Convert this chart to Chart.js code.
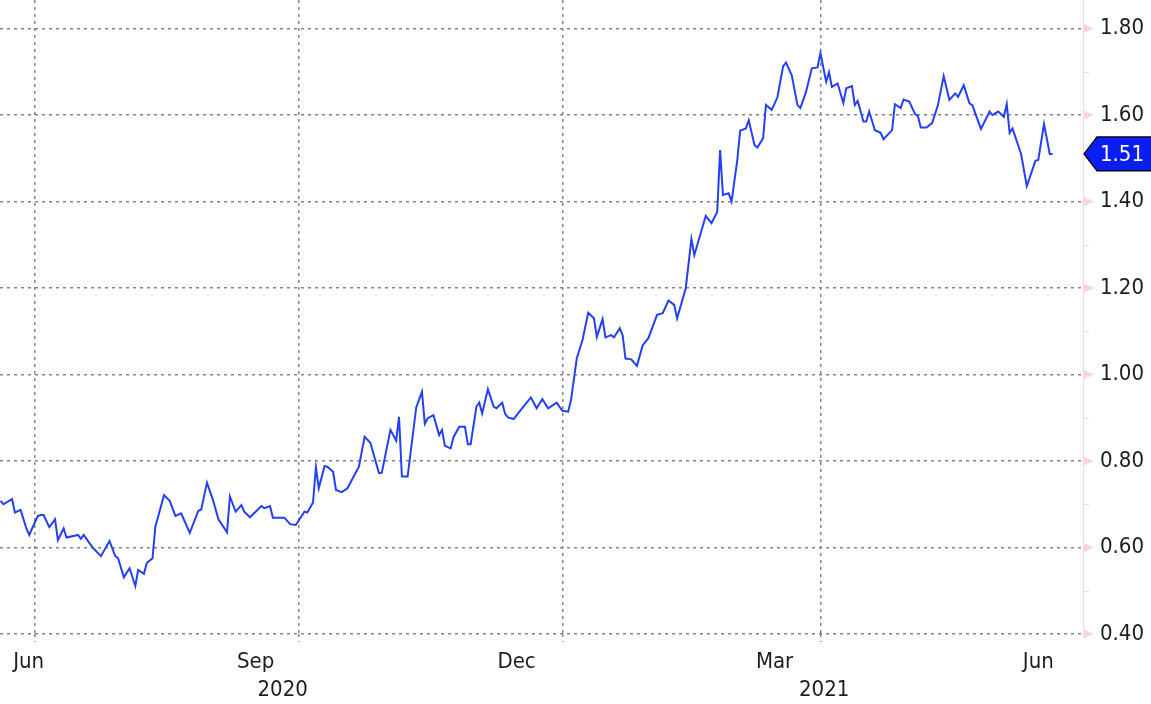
<!DOCTYPE html>
<html lang="en">
<head>
    <meta charset="UTF-8">
    <title>Yield chart</title>
    <script src="https://cdn.jsdelivr.net/npm/chart.js"></script>
    <style>
        html, body { margin: 0; padding: 0; background: #ffffff; }
        #wrap { width: 1151px; height: 704px; position: relative; }
    </style>
    <script>
        // days counted from 30 Jun 2020
        var baseDate = '2020-06-30';
        var dayOffsets = [
            -12, -11, -8, -7, -5, -3, -2, -1, 1, 2, 3, 5, 7, 8, 10, 11, 15, 16, 17, 20,
            23, 26, 28, 29, 31, 33, 35, 36, 38, 39, 41, 42, 45, 47, 49, 51, 54, 57, 58, 60,
            62, 64, 67, 68, 70, 72, 73, 75, 79, 80, 82, 83, 87, 89, 91, 94, 95, 97, 98, 99,
            101, 102, 104, 105, 107, 109, 113, 115, 117, 120, 121, 124, 126, 127, 128, 130, 133, 135, 136, 137,
            139, 141, 142, 143, 145, 146, 148, 150, 151, 152, 154, 155, 156, 158, 160, 161, 163, 164, 165, 167,
            169, 173, 175, 177, 179, 182, 184, 186, 187, 189, 191, 193, 195, 196, 198, 199, 201, 202, 204, 205,
            206, 208, 210, 212, 214, 217, 219, 221, 223, 224, 227, 229, 230, 234, 236, 238, 239, 240, 242, 243,
            245, 246, 248, 249, 251, 252, 254, 255, 257, 259, 261, 262, 264, 266, 267, 269, 271, 273, 274, 276,
            277, 278, 280, 282, 283, 285, 286, 287, 289, 290, 291, 293, 295, 296, 299, 300, 302, 303, 305, 307,
            308, 309, 311, 313, 315, 317, 319, 321, 322, 324, 326, 327, 330, 333, 334, 336, 338, 339, 340, 341,
            344, 346, 349, 350, 352, 354, 355
        ];
        var yields = [
            0.708, 0.700, 0.712, 0.681, 0.687, 0.644, 0.629, 0.644, 0.673, 0.675, 0.675, 0.647, 0.665, 0.617, 0.644, 0.623, 0.629, 0.620, 0.629, 0.601,
            0.580, 0.615, 0.580, 0.575, 0.531, 0.552, 0.511, 0.548, 0.539, 0.564, 0.575, 0.648, 0.721, 0.708, 0.673, 0.679, 0.634, 0.685, 0.688, 0.750,
            0.712, 0.665, 0.635, 0.718, 0.683, 0.698, 0.683, 0.670, 0.696, 0.691, 0.696, 0.669, 0.669, 0.654, 0.652, 0.683, 0.681, 0.704, 0.785, 0.737,
            0.788, 0.787, 0.775, 0.733, 0.728, 0.737, 0.787, 0.856, 0.842, 0.772, 0.773, 0.872, 0.847, 0.902, 0.764, 0.764, 0.924, 0.960, 0.886, 0.899,
            0.906, 0.860, 0.872, 0.835, 0.829, 0.855, 0.879, 0.879, 0.839, 0.839, 0.926, 0.935, 0.910, 0.966, 0.926, 0.922, 0.935, 0.909, 0.901, 0.897,
            0.914, 0.947, 0.922, 0.943, 0.922, 0.935, 0.916, 0.914, 0.941, 1.037, 1.080, 1.143, 1.130, 1.087, 1.128, 1.086, 1.091, 1.086, 1.107, 1.091,
            1.037, 1.035, 1.020, 1.068, 1.084, 1.138, 1.142, 1.171, 1.161, 1.130, 1.199, 1.313, 1.276, 1.367, 1.350, 1.376, 1.519, 1.415, 1.419, 1.400,
            1.496, 1.564, 1.569, 1.588, 1.531, 1.525, 1.546, 1.623, 1.612, 1.641, 1.713, 1.721, 1.692, 1.623, 1.616, 1.654, 1.708, 1.710, 1.743, 1.677,
            1.699, 1.665, 1.673, 1.628, 1.662, 1.667, 1.623, 1.633, 1.585, 1.585, 1.608, 1.565, 1.559, 1.544, 1.565, 1.625, 1.616, 1.636, 1.631, 1.602,
            1.598, 1.571, 1.571, 1.582, 1.623, 1.690, 1.635, 1.650, 1.642, 1.669, 1.627, 1.623, 1.568, 1.608, 1.600, 1.608, 1.596, 1.625, 1.559, 1.569,
            1.510, 1.436, 1.494, 1.496, 1.579, 1.510, 1.510
        ];

        var yTicks = [0.40, 0.60, 0.80, 1.00, 1.20, 1.40, 1.60, 1.80];
        var quarterEnds = ['2020-06-30', '2020-09-30', '2020-12-31', '2021-03-31'];
        var monthLabels = ['Jun', 'Sep', 'Dec', 'Mar', 'Jun'];
        var monthDates = ['2020-06-15', '2020-09-15', '2020-12-15', '2021-03-15', '2021-06-15'];
        var yearLabels = ['2020', '2021'];
        var yearStarts = ['2020-01-01', '2021-01-01'];

        var xMin = -12.2, xMax = 365.6;
        var yMin = 0.40, yMax = 1.866;
        var font = { family: '"DejaVu Sans Condensed", "DejaVu Sans", sans-serif', size: 22 };
        var textColor = '#1c1c26';
        var gridColor = '#858585';
        var pink = '#ffd6d6';

        function toDay(s) {
            return Math.round((Date.parse(s) - Date.parse(baseDate)) / 864e5);
        }

        // drop the label overhang padding so the plot fills the page
        function noPad(s) {
            s.paddingTop = 0;
            s.paddingBottom = 0;
            s.paddingLeft = 0;
            s.paddingRight = 0;
        }
    </script>
</head>
<body>
    <div id="wrap"><canvas id="myChart"></canvas></div>
    <script>
        var points = dayOffsets.map(function (d, i) { return { x: d, y: yields[i] }; });

        var axisMarks = {
            id: 'axisMarks',
            afterDraw: function (chart) {
                var ctx = chart.ctx;
                var area = chart.chartArea;
                var y = chart.scales.y;
                var x0 = area.right;
                ctx.save();
                ctx.fillStyle = pink;
                ctx.strokeStyle = pink;
                ctx.lineWidth = 1;
                yTicks.forEach(function (v) {
                    var py = y.getPixelForValue(v);
                    ctx.beginPath();
                    ctx.moveTo(x0, py - 5);
                    ctx.lineTo(x0 + 11, py);
                    ctx.lineTo(x0, py + 5);
                    ctx.closePath();
                    ctx.fill();
                    if (v + 0.1 < yMax) {
                        var pm = y.getPixelForValue(v + 0.1);
                        ctx.beginPath();
                        ctx.moveTo(x0, Math.round(pm) + 0.5);
                        ctx.lineTo(x0 + 6, Math.round(pm) + 0.5);
                        ctx.stroke();
                    }
                });

                // last value tag
                var last = yields[yields.length - 1];
                var py = y.getPixelForValue(last);
                var h = 17;
                ctx.beginPath();
                ctx.moveTo(x0 + 1, py);
                ctx.lineTo(x0 + 14, py - h);
                ctx.lineTo(chart.width + 2, py - h);
                ctx.lineTo(chart.width + 2, py + h);
                ctx.lineTo(x0 + 14, py + h);
                ctx.closePath();
                ctx.fillStyle = '#0a1ef2';
                ctx.fill();
                ctx.strokeStyle = '#000000';
                ctx.lineWidth = 1.2;
                ctx.stroke();
                ctx.fillStyle = '#ffffff';
                ctx.font = font.size + 'px ' + font.family;
                ctx.textAlign = 'left';
                ctx.textBaseline = 'middle';
                ctx.fillText(last.toFixed(2), x0 + 17, py + 1);
                ctx.restore();
            }
        };

        new Chart(document.getElementById('myChart'), {
            type: 'line',
            data: {
                datasets: [{
                    data: points,
                    borderColor: '#2440f0',
                    borderWidth: 2,
                    pointRadius: 0,
                    tension: 0,
                    fill: false
                }]
            },
            options: {
                responsive: true,
                maintainAspectRatio: false,
                animation: false,
                layout: { padding: 0 },
                plugins: { legend: { display: false }, tooltip: { enabled: false } },
                scales: {
                    x: {
                        type: 'linear', position: 'bottom', weight: 0,
                        min: xMin, max: xMax,
                        afterBuildTicks: function (s) { s.ticks = quarterEnds.map(function (d) { return { value: toDay(d) }; }); },
                        afterFit: function (s) { s.height = 8; noPad(s); },
                        ticks: { display: false },
                        grid: { color: gridColor, lineWidth: 1.5, drawTicks: true, tickLength: 8, tickColor: gridColor, tickWidth: 1.5, tickBorderDash: [3, 4] },
                        border: { display: false, dash: [3, 4] }
                    },
                    xMonths: {
                        type: 'linear', position: 'bottom', weight: 1,
                        min: xMin, max: xMax,
                        afterBuildTicks: function (s) {
                            s.ticks = monthDates.map(function (d) { return { value: Math.max(toDay(d), s.min + 10) }; });
                        },
                        afterFit: function (s) { s.height = 32; noPad(s); },
                        ticks: {
                            autoSkip: false, maxRotation: 0, padding: 7, font: font, color: textColor,
                            callback: function (v, i) { return monthLabels[i]; }
                        },
                        grid: { display: false, drawTicks: false },
                        border: { display: false }
                    },
                    xYears: {
                        type: 'linear', position: 'bottom', weight: 2,
                        min: xMin, max: xMax,
                        afterBuildTicks: function (s) {
                            s.ticks = yearStarts.map(function (d, i) {
                                var a = Math.max(toDay(d), s.min);
                                var b = i + 1 < yearStarts.length ? toDay(yearStarts[i + 1]) : s.max;
                                return { value: (a + Math.min(b, s.max)) / 2 };
                            });
                        },
                        afterFit: function (s) { s.height = 30; noPad(s); },
                        ticks: {
                            autoSkip: false, maxRotation: 0, padding: 3, font: font, color: textColor,
                            callback: function (v, i) { return yearLabels[i]; }
                        },
                        grid: { display: false, drawTicks: false },
                        border: { display: false }
                    },
                    y: {
                        type: 'linear', position: 'right',
                        min: yMin, max: yMax,
                        afterBuildTicks: function (s) { s.ticks = yTicks.map(function (v) { return { value: v }; }); },
                        afterFit: function (s) { s.width = 68; noPad(s); },
                        ticks: {
                            padding: 17, font: font, color: textColor,
                            callback: function (v) { return v.toFixed(2); }
                        },
                        grid: { color: gridColor, lineWidth: 1.5, drawTicks: false },
                        border: { display: true, color: pink, width: 1, dash: [3, 4] }
                    }
                }
            },
            plugins: [axisMarks]
        });
    </script>
</body>
</html>
